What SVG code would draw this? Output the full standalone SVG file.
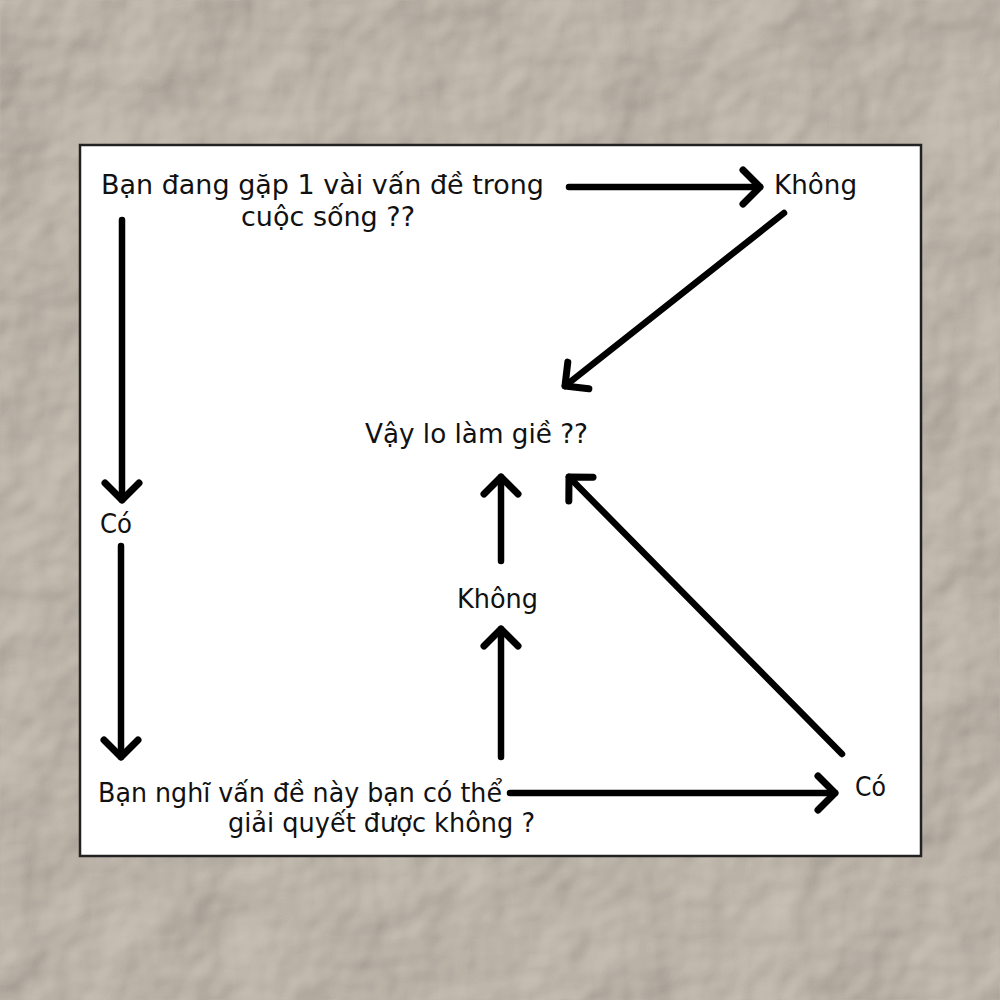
<svg xmlns="http://www.w3.org/2000/svg" width="1000" height="1000" viewBox="0 0 1000 1000">
  <defs>
    <filter id="paper" x="0" y="0" width="100%" height="100%">
      <feTurbulence type="fractalNoise" baseFrequency="0.008" numOctaves="4" seed="11" result="noise"/>
      <feDiffuseLighting in="noise" lighting-color="#d2c9bd" surfaceScale="9" result="lit">
        <feDistantLight azimuth="225" elevation="50"/>
      </feDiffuseLighting>
      <feComposite in="lit" in2="SourceGraphic" operator="in"/>
    </filter>
    <marker id="head" viewBox="-30 -30 40 60" markerWidth="40" markerHeight="60" refX="0" refY="0" orient="auto" markerUnits="userSpaceOnUse">
      <path d="M -17 -17 L 0 0 L -17 17" fill="none" stroke="#000" stroke-width="7" stroke-linecap="round" stroke-linejoin="round"/>
    </marker>
    <style>
      .t { font-family: "DejaVu Sans", Verdana, sans-serif; font-size: 27px; fill: #111; }
      .c { stroke: #000; stroke-width: 6.5; stroke-linecap: round; fill: none; marker-end: url(#head); }
    </style>
  </defs>

  <rect x="0" y="0" width="1000" height="1000" fill="#c5bcb0"/>
  <rect x="0" y="0" width="1000" height="1000" fill="#c5bcb0" filter="url(#paper)" opacity="0.9"/>

  <rect x="80" y="145" width="841" height="711" fill="#ffffff" stroke="#222" stroke-width="2.5"/>

  <g id="connectors">
    <line class="c" x1="569" y1="187" x2="760" y2="187"/>
    <line class="c" x1="784" y1="213" x2="565" y2="386"/>
    <line class="c" x1="122" y1="220" x2="122" y2="500"/>
    <line class="c" x1="121" y1="546" x2="121" y2="757"/>
    <line class="c" x1="510" y1="793" x2="835" y2="793"/>
    <line class="c" x1="501" y1="757" x2="501" y2="629"/>
    <line class="c" x1="501" y1="561" x2="501" y2="477"/>
    <line class="c" x1="842" y1="754" x2="569" y2="477"/>
  </g>

  <g id="node-q1">
    <text class="t" x="101" y="194" textLength="443" lengthAdjust="spacingAndGlyphs">Bạn đang gặp 1 vài vấn đề trong</text>
    <text class="t" x="241" y="226" textLength="174" lengthAdjust="spacingAndGlyphs">cuộc sống ??</text>
  </g>
  <g id="node-khong1">
    <text class="t" x="774" y="194" textLength="83" lengthAdjust="spacingAndGlyphs">Không</text>
  </g>
  <g id="node-co1">
    <text class="t" x="100" y="533" textLength="32" lengthAdjust="spacingAndGlyphs">Có</text>
  </g>
  <g id="node-center">
    <text class="t" x="365" y="443" textLength="223" lengthAdjust="spacingAndGlyphs">Vậy lo làm giề ??</text>
  </g>
  <g id="node-khong2">
    <text class="t" x="457" y="608" textLength="81" lengthAdjust="spacingAndGlyphs">Không</text>
  </g>
  <g id="node-q2">
    <text class="t" x="98" y="802" textLength="404" lengthAdjust="spacingAndGlyphs">Bạn nghĩ vấn đề này bạn có thể</text>
    <text class="t" x="228" y="832" textLength="307" lengthAdjust="spacingAndGlyphs">giải quyết được không ?</text>
  </g>
  <g id="node-co2">
    <text class="t" x="855" y="796" textLength="31" lengthAdjust="spacingAndGlyphs">Có</text>
  </g>
</svg>
